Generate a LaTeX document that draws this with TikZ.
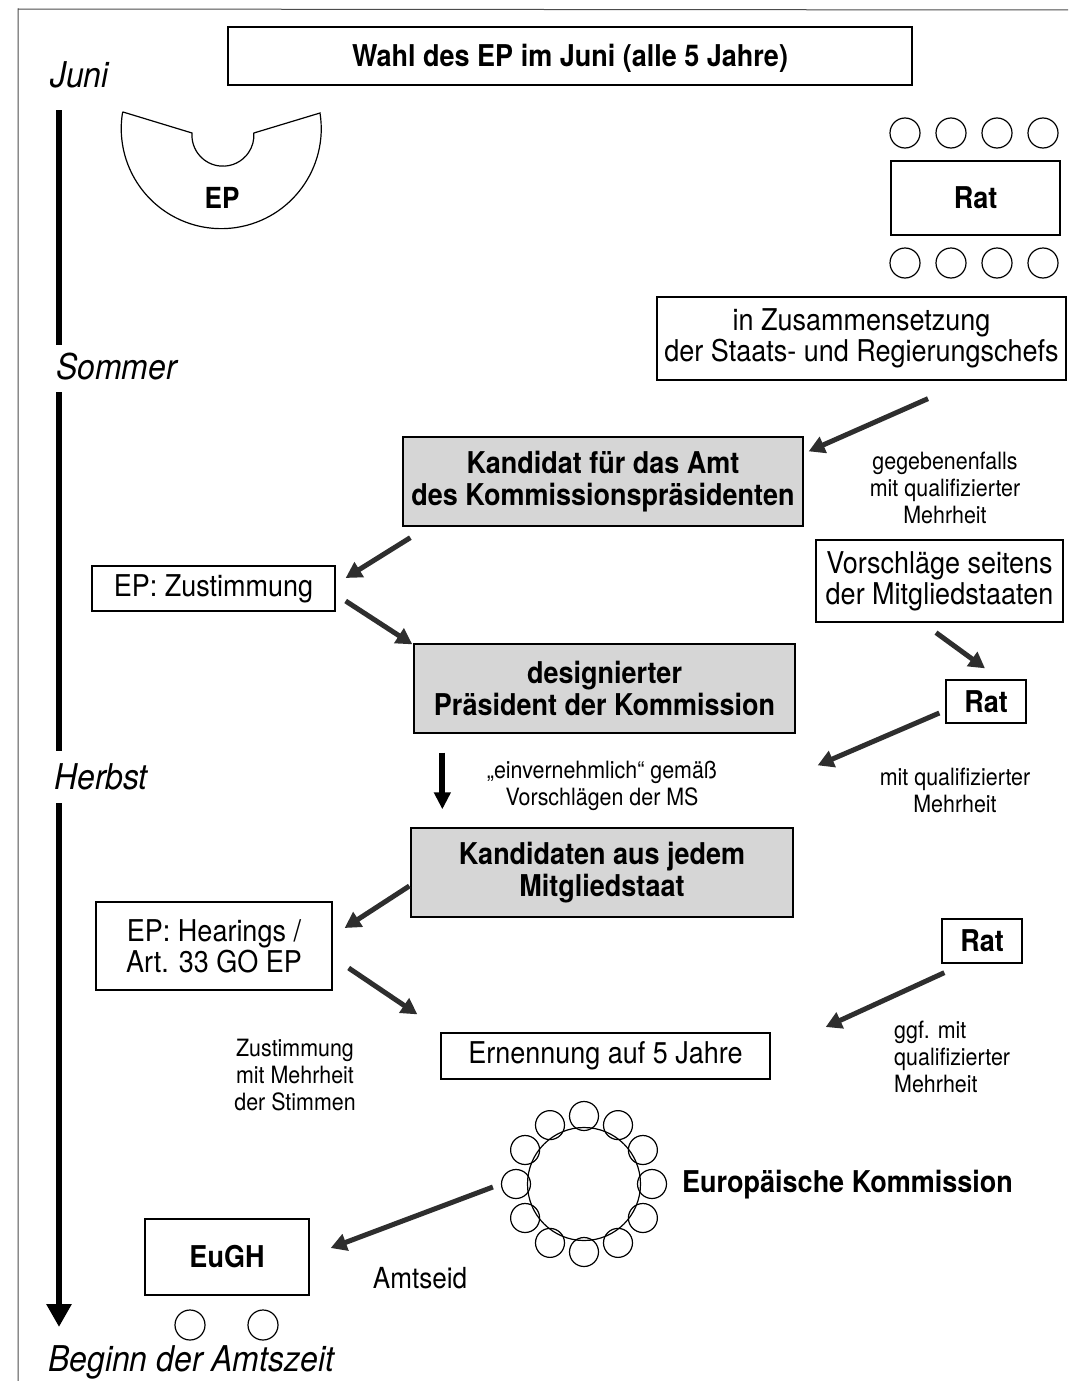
\documentclass[tikz,border=0pt]{standalone}
\usepackage{fontspec}
\setmainfont[FakeStretch=0.9]{TeX Gyre Heros}
\usetikzlibrary{arrows.meta,calc}
\begin{document}
\begin{tikzpicture}[x=1pt,y=-1pt,
  box/.style={draw, line width=1.3pt, inner sep=0pt, align=center, font=\fontsize{30}{31}\selectfont},
  bbox/.style={box, font=\fontsize{30}{31}\selectfont\bfseries},
  gbox/.style={box, fill=black!16, font=\fontsize{30}{32}\selectfont\bfseries},
  small/.style={align=center, font=\fontsize{23.8}{27}\selectfont, inner sep=0pt},
  season/.style={anchor=west, inner sep=0pt, font=\fontsize{35.5}{38}\selectfont\itshape},
  arr/.style={line width=5pt, draw=black!82, -{Triangle[length=16pt,width=17pt]}},
  chair/.style={draw, circle, line width=1.2pt, minimum size=30pt, inner sep=0pt},
  tl/.style={line width=6pt, draw=black},
]
\useasboundingbox (0,0) rectangle (1081,1381);
\draw[line width=1pt, black!70] (18,1381) -- (18,9) -- (1068,10);

% title
\node[bbox, minimum width=684, minimum height=58, text height=24pt, text depth=3pt] (title) at (570,56) {Wahl des EP im Juni (alle 5 Jahre)};

% EP hemicycle
\draw[line width=1.2pt] (123,112) -- (192,133) arc[start angle=184,end angle=-4,radius=31]
  -- (320,113) arc[start angle=-9,end angle=189,radius=100] -- cycle;
\node[font=\fontsize{29}{30}\selectfont\bfseries, inner sep=0pt] (ep) at (222,198) {EP};

% Rat (top)
\node[bbox, minimum width=169, minimum height=74] (rat1) at (975.5,198) {Rat};
\foreach \x [count=\i] in {905,951,997,1043} {
  \node[chair] (rt\i) at (\x,133) {};
  \node[chair] (rb\i) at (\x,263) {};
}

\node[box, minimum width=409, minimum height=83] (zus) at (861.5,338.5) {in Zusammensetzung\\der Staats- und Regierungschefs};

\node[gbox, minimum width=400, minimum height=89] (kand) at (603,481.5) {Kandidat für das Amt\\des Kommissionspräsidenten};
\node[small] (gg) at (945,488) {gegebenenfalls\\mit qualifizierter\\Mehrheit};

\node[box, minimum width=247, minimum height=82] (vor) at (939.5,581) {Vorschläge seitens\\der Mitgliedstaaten};
\node[box, minimum width=243, minimum height=45] (epz) at (213.5,588.5) {EP: Zustimmung};

\node[gbox, minimum width=381, minimum height=89] (des) at (604.5,688.5) {designierter\\Präsident der Kommission};
\node[bbox, minimum width=80, minimum height=43] (rat2) at (986,701.5) {Rat};

\node[small] (ein) at (602,786) {„einvernehmlich“ gemäß\\Vorschlägen der MS};
\node[small] (mq) at (955,790) {mit qualifizierter\\Mehrheit};

\node[gbox, minimum width=382, minimum height=89] (kmit) at (602,872.5) {Kandidaten aus jedem\\Mitgliedstaat};
\node[box, minimum width=236, minimum height=88] (eph) at (214,946) {EP: Hearings /\\Art. 33 GO EP};
\node[bbox, minimum width=80, minimum height=44] (rat3) at (982,941) {Rat};

\node[small, align=left, anchor=west] (ggf) at (894,1057) {ggf. mit\\qualifizierter\\Mehrheit};
\node[small] (zst) at (295,1075) {Zustimmung\\mit Mehrheit\\der Stimmen};
\node[box, minimum width=329, minimum height=46] (ern) at (605.5,1056) {Ernennung auf 5 Jahre};

% Commission
\node[draw, circle, line width=1.2pt, minimum size=113pt, inner sep=0pt] (kom) at (584,1184) {};
\foreach \a [count=\i] in {0,30,...,330}
  \node[chair, minimum size=29pt] (kc\i) at ($(kom)+(\a:68)$) {};
\node[anchor=west, inner sep=0pt, font=\fontsize{30}{31}\selectfont\bfseries] (komlab) at (682,1185) {Europäische Kommission};

% EuGH
\node[bbox, minimum width=164, minimum height=76] (eugh) at (227,1257) {EuGH};
\node[chair] (ec1) at (190,1325) {};
\node[chair] (ec2) at (263,1325) {};
\node[inner sep=0pt, font=\fontsize{29}{30}\selectfont] (amtseid) at (420,1278) {Amtseid};

% timeline
\node[season] (juni) at (50,75) {Juni};
\node[season] (sommer) at (56,367) {Sommer};
\node[season] (herbst) at (54,777) {Herbst};
\node[season] (beginn) at (48,1362) {Beginn der Amtszeit};
\coordinate (t1a) at (59,110);
\coordinate (t1b) at (59,345);
\coordinate (t2a) at (59,392);
\coordinate (t2b) at (59,751);
\coordinate (t3a) at (59,803);
\coordinate (t3b) at (59,1327);
\draw[tl] (t1a) -- (t1b);
\draw[tl] (t2a) -- (t2b);
\draw[tl, -{Triangle[length=23pt,width=24pt]}] (t3a) -- (t3b);

% connectors
\draw[arr] ($(zus.south)+(66.5,18)$) -- ($(kand.north east)+(5,15)$);
\draw[arr] ($(kand.south west)+(8,11)$) -- ($(epz.east)+(10,-10.5)$);
\draw[arr] ($(epz.east)+(10,12.5)$) -- ($(des.north west)+(-1,1)$);
\draw[arr] ($(vor.south)+(-3.5,10)$) -- ($(rat2.north)+(-1,-11)$);
\draw[arr] ($(rat2.west)+(-6,11.5)$) -- ($(kmit.north east)+(24,-62)$);
\draw[line width=6pt, draw=black, -{Triangle[length=17pt,width=16pt]}] ($(des.south west)+(29,19)$) -- ($(kmit.north west)+(32,-18)$);
\draw[arr] ($(kmit.west)+(-1,13.5)$) -- ($(eph.east)+(12,-18)$);
\draw[arr] ($(eph.east)+(16,22)$) -- ($(ern.north west)+(-23,-18)$);
\draw[arr] ($(rat3.south west)+(3,9)$) -- ($(ern.east)+(55,-29)$);
\draw[arr] ($(kom.west)+(-34,3)$) -- ($(eugh.east)+(21,-9)$);
\end{tikzpicture}
\end{document}
